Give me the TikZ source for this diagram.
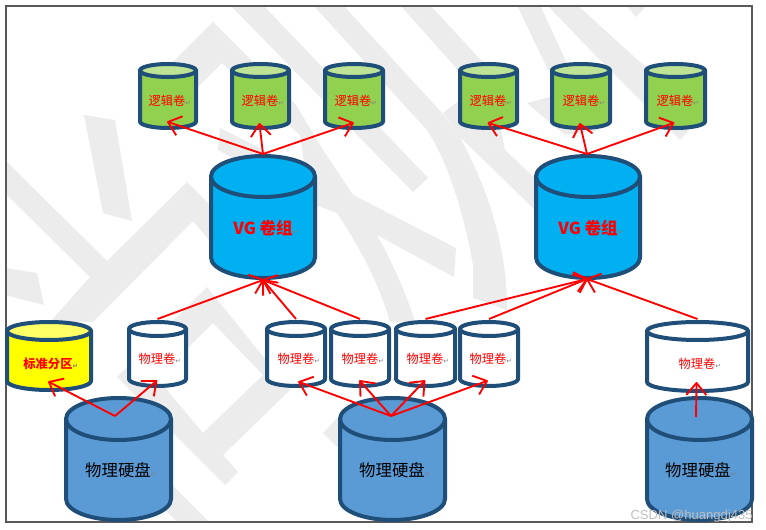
\documentclass[tikz,border=0pt]{standalone}
\usepackage{fontspec}
\usetikzlibrary{arrows.meta,calc}
\setmainfont{Liberation Sans}
\newfontfamily\cjk{Noto Sans CJK SC}
\newfontfamily\sym{DejaVu Sans}
\definecolor{edgeblue}{HTML}{1F4E79}
\definecolor{lvfill}{HTML}{92D050}
\definecolor{lvtop}{HTML}{BEE395}
\definecolor{vgfill}{HTML}{00B0F0}
\definecolor{diskfill}{HTML}{5B9BD5}
\definecolor{wm}{HTML}{ECECEC}
\definecolor{ylw}{HTML}{FFFF00}
\definecolor{ylwtop}{HTML}{FFFF66}
\pgfdeclarearrow{
  name=VeeBarb,
  setup code={%
    \pgfarrowssetbackend{-9pt}%
    \pgfarrowssetvisualbackend{-9pt}%
    \pgfarrowssetlineend{-1pt}%
    \pgfarrowssettipend{0pt}%
    \pgfarrowshullpoint{0pt}{0pt}%
    \pgfarrowshullpoint{-9pt}{7.5pt}%
    \pgfarrowshullpoint{-9pt}{-7.5pt}%
  },
  drawing code={%
    \pgfsetdash{}{0pt}%
    \pgfsetroundjoin
    \pgfsetbuttcap
    \pgfpathmoveto{\pgfpoint{-9pt}{7.5pt}}%
    \pgfpathlineto{\pgfpoint{0pt}{0pt}}%
    \pgfpathlineto{\pgfpoint{-9pt}{-7.5pt}}%
    \pgfusepathqstroke
  }
}
\tikzset{
  arr/.style={draw=red,line width=1.4pt,-{VeeBarb}},
  cylline/.style={draw=edgeblue,line width=3pt,line join=round},
  cylbox/.style={inner sep=0pt,outer sep=0pt,rectangle},
  lbl/.style={inner sep=0pt,font=\cjk\fontsize{9.2}{11}\selectfont,text=red},
  lblb/.style={inner sep=0pt,font=\cjk\bfseries\fontsize{9.2}{11}\selectfont,text=red},
  lblv/.style={inner sep=0pt,font=\cjk\bfseries\fontsize{12.4}{14}\selectfont,text=red},
  lbld/.style={inner sep=0pt,font=\cjk\fontsize{12.3}{14}\selectfont,text=black},
  wmk/.style={fill=wm,draw=none}
}
\newcommand{\ret}{\rlap{\sym\fontsize{5}{5}\selectfont\textcolor{gray}{↵}}}
% #1 name, #2 left, #3 right, #4 top, #5 bottom, #6 ellipse height, #7 body, #8 top colour
\newcommand{\cyl}[8]{%
  \pgfmathsetmacro{\cxx}{(#2+#3)/2}%
  \pgfmathsetmacro{\rxx}{(#3-#2)/2}%
  \pgfmathsetmacro{\ryy}{#6/2}%
  \pgfmathsetmacro{\cyy}{#4+\ryy}%
  \pgfmathsetmacro{\byy}{#5-\ryy}%
  \path[cylline,fill=#7] (#2,\cyy) -- (#2,\byy) arc[start angle=180,end angle=0,x radius=\rxx,y radius=\ryy] -- (#3,\cyy) -- cycle;
  \path[cylline,fill=#8] (\cxx,\cyy) ellipse[x radius=\rxx,y radius=\ryy];
  \pgfmathsetmacro{\wdd}{#3-#2}%
  \pgfmathsetmacro{\htt}{#5-#4}%
  \pgfmathsetmacro{\myy}{(#4+#5)/2}%
  \node[cylbox,minimum width=\wdd*0.75pt,minimum height=\htt*0.75pt] (#1) at (\cxx,\myy) {};
}
\begin{document}
\begin{tikzpicture}[x=0.75pt,y=-0.75pt]
\useasboundingbox (0,0) rectangle (766,530);
\fill[white] (0,0) rectangle (766,530);
% watermark
\begin{scope}
\clip (6,6) rectangle (752,522);
\fill[wmk] (84,115) -- (115,120) -- (132,221) -- (103,213) -- cycle;
\fill[wmk] (5,268) -- (37,273) -- (44,305) -- (5,295) -- cycle;
% left cross with right arm
\fill[wmk] (5,160) -- (10,165) -- (107,261) -- (187,182) -- (250,245) -- (230,265) -- (193,221) -- (93,322) -- (50,322) -- (90,277) -- (5,193) -- cycle;
% upper chevron
\fill[wmk] (213,22) -- (296,105) -- (323,150) -- (353,195) -- (337,213) -- (310,203) -- (300,135) -- (222,63) -- (180,105) -- (160,75) -- cycle;
\fill[wmk] (220,128) -- (353,195) -- (456,248) -- (454,277) -- (377,235) .. controls (392,262) and (405,290) .. (415,322) -- (390,322) .. controls (378,280) and (358,245) .. (337,213) -- (218,150) -- cycle;
% diagonal strip
\fill[wmk] (230,5) -- (263,5) -- (428,178) -- (413,192) -- cycle;
% arc
\fill[wmk] (313,5) -- (343,5) -- (442,113) -- (460,137) .. controls (485,185) and (507,240) .. (507,310) -- (473,298) -- (473,265) .. controls (465,220) and (450,165) .. (427,130) -- cycle;
% top strip into arc
\fill[wmk] (400,5) -- (430,5) -- (490,70) -- (505,150) -- (460,137) -- (443,113) -- (460,100) -- (458,70) -- cycle;
\fill[wmk] (460,137) -- (505,150) -- (540,183) -- (540,212) -- (533,208) -- cycle;
\fill[wmk] (517,5) -- (540,5) -- (570,70) -- (548,70) -- cycle;
\fill[wmk] (547,5) -- (577,5) -- (640,62) -- (706,110) -- (680,140) -- (600,60) -- cycle;
\fill[wmk] (527,103) -- (550,97) -- (600,130) -- (565,135) -- cycle;
\fill[wmk] (626,5) -- (636,17) -- (647,5) -- cycle;
% lower diamond
\fill[wmk,even odd rule] (207,287) -- (290,390) -- (223,455) -- (238,472) -- (225,485) -- (117,377) -- cycle
  (213,323) -- (263,375) -- (203,433) -- (157,378) -- cycle;
\fill[wmk] (150,480) -- (172,485) -- (209,522) -- (177,522) -- (150,495) -- cycle;
\fill[wmk] (323,433) -- (345,410) -- (345,455) -- cycle;
\end{scope}
\draw[draw=black!65,line width=0.8pt] (6,6) rectangle (752,522);
% logical volumes
\cyl{l1}{140}{196}{64}{128}{13}{lvfill}{lvtop}
\cyl{l2}{232}{289}{64}{128}{13}{lvfill}{lvtop}
\cyl{l3}{325}{383}{64}{128}{13}{lvfill}{lvtop}
\cyl{l4}{460}{517}{64}{128}{13}{lvfill}{lvtop}
\cyl{l5}{552}{610}{64}{128}{13}{lvfill}{lvtop}
\cyl{l6}{646}{705}{64}{128}{13}{lvfill}{lvtop}
% volume groups
\cyl{vg1}{211}{315}{156}{278}{41}{vgfill}{vgfill}
\cyl{vg2}{536}{640}{156}{278}{41}{vgfill}{vgfill}
% standard partition and physical volumes
\cyl{sp}{7}{91}{322}{390}{18}{ylw}{ylwtop}
\cyl{p1}{129}{186}{322}{386}{14}{white}{white}
\cyl{p2}{267}{325}{322}{386}{14}{white}{white}
\cyl{p3}{331}{389}{322}{386}{14}{white}{white}
\cyl{p4}{396}{455}{322}{386}{14}{white}{white}
\cyl{p5}{460}{518}{322}{386}{14}{white}{white}
\cyl{p6}{647}{748}{322}{391}{18}{white}{white}
% disks
\cyl{d1}{66}{171}{398}{520}{42}{diskfill}{diskfill}
\cyl{d2}{340}{445}{398}{520}{42}{diskfill}{diskfill}
\cyl{d3}{647}{752}{398}{520}{42}{diskfill}{diskfill}
% labels
\foreach \n/\x in {la/167,lb/260,lc/353,ld/488,le/581,lf/675}
  \node[lbl] (\n) at (\x,101) {逻辑卷\ret};
\node[lblv] (v1) at (263,228) {VG 卷组\ret};
\node[lblv] (v2) at (588,228) {VG 卷组\ret};
\node[lblb] (spt) at (48,364) {标准分区\ret};
\foreach \n/\x/\y in {pa/157/359,pb/296/359,pc/360/359,pd/425/359,pe/488/359,pf/697/364}
  \node[lbl] (\n) at (\x,\y) {物理卷\ret};
\node[lbld] (da) at (118,470) {物理硬盘\ret};
\node[lbld] (db) at (392,470) {物理硬盘\ret};
\node[lbld] (dc) at (698,470) {物理硬盘\ret};
% connectors
\draw[arr] ([shift={(0,-2)}]vg1.north) -- ([shift={(0,-6)}]l1.south);
\draw[arr] ([shift={(0,-2)}]vg1.north) -- ([shift={(-1,-4)}]l2.south);
\draw[arr] ([shift={(0,-2)}]vg1.north) -- ([shift={(-1,-5)}]l3.south);
\draw[arr] ([shift={(-1,-2)}]vg2.north) -- ([shift={(0,-5)}]l4.south);
\draw[arr] ([shift={(-1,-2)}]vg2.north) -- ([shift={(-1,-4)}]l5.south);
\draw[arr] ([shift={(-1,-2)}]vg2.north) -- ([shift={(-2,-5)}]l6.south);
\draw[arr] ([shift={(0,-3)}]p1.north) -- ([shift={(0,2)}]vg1.south);
\draw[arr] ([shift={(0,-3)}]p2.north) -- ([shift={(0,2)}]vg1.south);
\draw[arr] ([shift={(0,-3)}]p3.north) -- ([shift={(0,2)}]vg1.south);
\draw[arr] ([shift={(0,-3)}]p4.north) -- ([shift={(-1,1)}]vg2.south);
\draw[arr] ([shift={(0,-3)}]p5.north) -- ([shift={(-1,1)}]vg2.south);
\draw[arr] ([shift={(0,-3)}]p6.north) -- ([shift={(-1,1)}]vg2.south);
\coordinate (h1) at (115,416);
\coordinate (h2) at (391,416);
\coordinate (h3) at (696,417);
\draw[arr] (h1) -- ([shift={(0,-8)}]sp.south);
\draw[arr] (h1) -- ([shift={(-1,-5)}]p1.south);
\draw[arr] (h2) -- ([shift={(3,-4)}]p2.south);
\draw[arr] (h2) -- ([shift={(0,-5)}]p3.south);
\draw[arr] (h2) -- ([shift={(-1,-5)}]p4.south);
\draw[arr] (h2) -- ([shift={(-2,-5)}]p5.south);
\draw[arr] (h3) -- ([shift={(-1,-8)}]p6.south);
% credit
\node[inner sep=0pt,anchor=east,font=\fontsize{9.8}{12}\selectfont,text=black!25] (credit) at (753,516) {CSDN @huangdj435};
\end{tikzpicture}
\end{document}
